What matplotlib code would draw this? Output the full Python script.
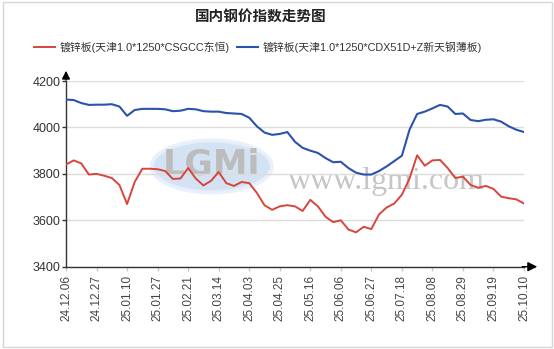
import numpy as np
import matplotlib
matplotlib.use("Agg")
import matplotlib.pyplot as plt
from matplotlib.patches import Ellipse, Rectangle

plt.rcParams['font.family'] = ['Liberation Sans', 'Noto Sans CJK SC', 'DejaVu Sans']

title = "国内钢价指数走势图"
name_red = "镀锌板(天津1.0*1250*CSGCC东恒)"
name_blue = "镀锌板(天津1.0*1250*CDX51D+Z新天钢薄板)"

tick_labels = ["24.12.06", "24.12.27", "25.01.10", "25.01.27", "25.02.21", "25.03.14",
               "25.04.03", "25.04.25", "25.05.16", "25.06.06", "25.06.27", "25.07.18",
               "25.08.08", "25.08.29", "25.09.19", "25.10.10"]

red_vals = [3840, 3858, 3845, 3797, 3800, 3792, 3782, 3752, 3670, 3765,
            3822, 3822, 3820, 3812, 3778, 3780, 3825, 3780, 3750, 3770,
            3808, 3760, 3748, 3765, 3760, 3718, 3665, 3645, 3660, 3665,
            3660, 3640, 3688, 3660, 3615, 3592, 3600, 3560, 3548, 3572,
            3562, 3625, 3655, 3672, 3710, 3780, 3880, 3835, 3858, 3860,
            3825, 3782, 3788, 3752, 3740, 3748, 3735, 3702, 3695, 3690,
            3672]

blue_vals = [4120, 4118, 4105, 4097, 4098, 4098, 4100, 4090, 4050, 4075,
             4080, 4080, 4080, 4078, 4070, 4072, 4080, 4078, 4070, 4068,
             4068, 4062, 4060, 4058, 4042, 4005, 3978, 3968, 3972, 3980,
             3938, 3912, 3900, 3890, 3868, 3850, 3852, 3825, 3805, 3797,
             3797, 3812, 3832, 3855, 3878, 3990, 4058, 4068, 4082, 4097,
             4090, 4058, 4060, 4032, 4027, 4033, 4035, 4025, 4005, 3990,
             3980]

x = np.arange(len(red_vals))
step = (len(red_vals) - 1) // (len(tick_labels) - 1)

fig = plt.figure(figsize=(5.54, 3.49), dpi=100)
W, H = 554, 349
ax = fig.add_axes([66 / W, 1 - 266.7 / H, (524 - 66) / W, (266.7 - 81) / H])

# outer frame
fig.patches.append(Rectangle((3 / W, 2 / H), 549 / W, 345 / H, transform=fig.transFigure,
                             fill=False, edgecolor="#d6d6d6", linewidth=1))

# watermark
ax.add_patch(Ellipse((0.318, 0.54), 120 / 458, 52 / 185.7, transform=ax.transAxes,
                     facecolor="#cfe0f3", edgecolor="#e8f0fa", linewidth=3, alpha=0.9, zorder=0))
ax.text(0.318, 0.55, "LGMi", transform=ax.transAxes, ha="center", va="center",
        fontsize=25, color="#bcbcbc", fontweight="bold", family="DejaVu Sans", zorder=0)
ax.text(0.70, 0.46, "www.lgmi.com", transform=ax.transAxes, ha="center", va="center",
        fontsize=23, color="#c6c6c6", family="Liberation Serif", zorder=0)

ax.plot(x, red_vals, color="#d9453d", linewidth=1.4, label=name_red, zorder=3)
ax.plot(x, blue_vals, color="#2b52ad", linewidth=1.5, label=name_blue, zorder=3)

ax.set_xlim(0, len(red_vals) - 1)
ax.set_ylim(3400, 4200)
ax.set_yticks([3400, 3600, 3800, 4000, 4200])
ax.set_xticks(x[::step])
ax.set_xticklabels(tick_labels, rotation=90)
ax.grid(axis="y", color="#dcdcdc", linewidth=1)
ax.set_axisbelow(True)

for s in ["top", "right"]:
    ax.spines[s].set_visible(False)
for s in ["left", "bottom"]:
    ax.spines[s].set_color("#333333")
    ax.spines[s].set_linewidth(1)

ax.tick_params(axis="y", length=3, width=1, color="#333333", labelsize=9,
               labelcolor="#333333", pad=1)
ax.tick_params(axis="x", length=3, width=1, color="#cccccc", labelsize=8.5,
               labelcolor="#444444", pad=3)

# arrow heads on the axes
ax.annotate("", xy=(1.035, 0), xytext=(0.99, 0), xycoords="axes fraction",
            arrowprops=dict(arrowstyle="-|>", color="black", lw=1, mutation_scale=14),
            annotation_clip=False)
ax.annotate("", xy=(0, 1.07), xytext=(0, 0.99), xycoords="axes fraction",
            arrowprops=dict(arrowstyle="-|>", color="black", lw=1, mutation_scale=12),
            annotation_clip=False)

fig.text(261 / W, 1 - 17 / H, title, ha="center", va="center", fontsize=10.5,
         fontweight="bold", color="#222222")
fig.legend(loc="center", bbox_to_anchor=(258 / W, 1 - 47 / H), ncol=2, frameon=False,
           fontsize=7.8, handlelength=1.9, handletextpad=0.45, columnspacing=0.7,
           labelcolor="#333333")

fig.savefig("out.png", dpi=100)
